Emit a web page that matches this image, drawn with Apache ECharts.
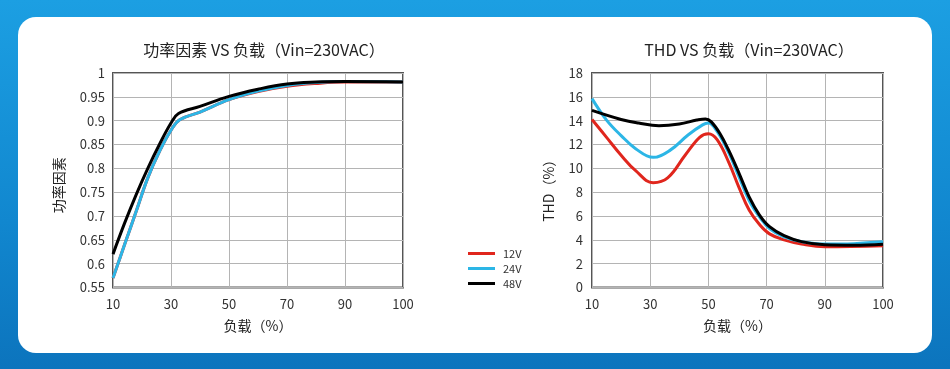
<!DOCTYPE html>
<html>
<head>
<meta charset="utf-8">
<script src="https://cdn.jsdelivr.net/npm/echarts@6/dist/echarts.min.js"></script>
<style>
  html, body { margin: 0; padding: 0; }
  #bg { position: absolute; left: 0; top: 0; width: 950px; height: 369px;
        background: linear-gradient(180deg, #1c9fe2 0%, #1187cf 60%, #0c74bd 100%); }
  #card { position: absolute; left: 18px; top: 17px; width: 914px; height: 336px;
          background: #ffffff; border-radius: 18px; }
  #chart { position: absolute; left: 0; top: 0; width: 950px; height: 369px; }
</style>
</head>
<body>
<div id="bg"></div>
<div id="card"></div>
<div id="chart"></div>
<script>
// ---- Data ----
const xTickLabels = ['10', '30', '50', '70', '90', '100'];
const xTickLoads = [10, 30, 50, 70, 90, 100];
const seriesNames = ['12V', '24V', '48V'];

// Power factor vs load
const pfLoads = [10, 14, 18, 22, 26, 30, 33, 40, 50, 60, 70, 80, 90, 100];
const pf12V = [0.57, 0.64, 0.71, 0.78, 0.835, 0.88, 0.902, 0.918, 0.944, 0.961, 0.972, 0.978, 0.981, 0.981];
const pf24V = [0.57, 0.64, 0.71, 0.78, 0.835, 0.88, 0.902, 0.918, 0.944, 0.962, 0.974, 0.98, 0.982, 0.981];
const pf48VLoads = [10, 14, 18, 22, 26, 30, 32.6, 40, 50, 60, 70, 80, 90, 100];
const pf48V = [0.62, 0.685, 0.745, 0.80, 0.85, 0.895, 0.915, 0.93, 0.951, 0.966, 0.977, 0.981, 0.982, 0.981];

// THD vs load
const thd12VLoads = [10, 15, 20, 25, 31, 36, 42, 47, 50, 53, 57, 60.5, 64, 67.5, 71, 76, 82, 90, 100];
const thd12V = [14.1, 12.6, 11.1, 9.8, 8.8, 9.2, 11.1, 12.6, 12.9, 12.4, 10.5, 8.4, 6.5, 5.3, 4.5, 4.0, 3.65, 3.42, 3.5];
const thd24VLoads = [10, 15, 20, 25, 31, 37, 43, 48, 50, 53, 57, 60.5, 64, 67.5, 71, 76, 82, 90, 95, 100];
const thd24V = [15.85, 14.05, 12.75, 11.65, 10.92, 11.55, 12.8, 13.65, 13.8, 13.1, 11.3, 9.3, 7.3, 5.95, 4.95, 4.25, 3.85, 3.64, 3.68, 3.83];
const thd48VLoads = [10, 20, 26, 33, 40, 46, 49, 51, 54, 57, 60.5, 64, 67.5, 71, 76, 82, 90, 95, 100];
const thd48V = [14.86, 14.1, 13.8, 13.58, 13.72, 14.05, 14.15, 13.9, 12.9, 11.5, 9.6, 7.6, 6.1, 5.1, 4.35, 3.85, 3.58, 3.54, 3.62];

// ---- Helpers ----
// the load axis places its ticks (10,30,50,70,90,100) at equal spacing
function loadToPos(l) {
  for (let i = 0; i < xTickLoads.length - 1; i++) {
    if (l <= xTickLoads[i + 1]) {
      return i + (l - xTickLoads[i]) / (xTickLoads[i + 1] - xTickLoads[i]);
    }
  }
  return xTickLoads.length - 1;
}
function pts(loads, vals) { return loads.map((l, i) => [loadToPos(l), vals[i]]); }

const colors = { '12V': '#e0261d', '24V': '#2cb6e6', '48V': '#000000' };
const FONT = '"Noto Sans CJK SC", "Noto Sans", sans-serif';

function xAxisCfg(gridIndex) {
  return {
    type: 'value', gridIndex, min: 0, max: 5, interval: 1,
    name: '负载（%）', nameLocation: 'middle', nameGap: 31,
    nameTextStyle: { fontSize: 14, color: '#222', fontFamily: FONT },
    axisLine: { show: false }, axisTick: { show: false },
    axisLabel: { formatter: v => xTickLabels[Math.round(v)], fontSize: 13, color: '#333', fontFamily: FONT, margin: 10 },
    splitLine: { show: true, lineStyle: { color: '#b4b4b4', width: 1 } }
  };
}

const chart = echarts.init(document.getElementById('chart'), null, { renderer: 'canvas' });
const option = {
  backgroundColor: 'transparent',
  animation: false,
  title: [
    { text: '功率因素 VS 负载（Vin=230VAC）', left: 259, top: 37, textAlign: 'center',
      textStyle: { fontSize: 16, fontWeight: 'normal', color: '#222', fontFamily: FONT } },
    { text: 'THD VS 负载（Vin=230VAC）', left: 744, top: 37, textAlign: 'center',
      textStyle: { fontSize: 16, fontWeight: 'normal', color: '#222', fontFamily: FONT } }
  ],
  legend: {
    orient: 'vertical', left: 463, top: 243, itemWidth: 27, itemHeight: 3, itemGap: 4,
    icon: 'rect', data: seriesNames,
    textStyle: { fontSize: 11, color: '#333', fontFamily: FONT, padding: [0, 0, 0, 3] }
  },
  grid: [
    { left: 113, right: 547, top: 73, height: 214.5, show: true, borderColor: '#555', borderWidth: 2, backgroundColor: 'transparent' },
    { left: 592, right: 67, top: 73, height: 214.5, show: true, borderColor: '#555', borderWidth: 2, backgroundColor: 'transparent' }
  ],
  xAxis: [xAxisCfg(0), xAxisCfg(1)],
  yAxis: [
    { type: 'value', gridIndex: 0, min: 0.55, max: 1, interval: 0.05,
      name: '功率因素', nameLocation: 'middle', nameGap: 47, nameRotate: 90,
      nameTextStyle: { fontSize: 14, color: '#222', fontFamily: FONT, padding: [0, 10, 0, 0] },
      axisLine: { show: false }, axisTick: { show: false },
      axisLabel: { fontSize: 13, color: '#333', fontFamily: FONT, margin: 8 },
      splitLine: { show: true, lineStyle: { color: '#b4b4b4', width: 1 } } },
    { type: 'value', gridIndex: 1, min: 0, max: 18, interval: 2,
      name: 'THD（%）', nameLocation: 'middle', nameGap: 36, nameRotate: 90,
      nameTextStyle: { fontSize: 14, color: '#222', fontFamily: FONT, padding: [0, 14, 0, 0] },
      axisLine: { show: false }, axisTick: { show: false },
      axisLabel: { fontSize: 13, color: '#333', fontFamily: FONT, margin: 9 },
      splitLine: { show: true, lineStyle: { color: '#b4b4b4', width: 1 } } }
  ],
  series: [
    { name: '12V', type: 'line', xAxisIndex: 0, yAxisIndex: 0, data: pts(pfLoads, pf12V) },
    { name: '24V', type: 'line', xAxisIndex: 0, yAxisIndex: 0, data: pts(pfLoads, pf24V) },
    { name: '48V', type: 'line', xAxisIndex: 0, yAxisIndex: 0, data: pts(pf48VLoads, pf48V) },
    { name: '12V', type: 'line', xAxisIndex: 1, yAxisIndex: 1, data: pts(thd12VLoads, thd12V) },
    { name: '24V', type: 'line', xAxisIndex: 1, yAxisIndex: 1, data: pts(thd24VLoads, thd24V) },
    { name: '48V', type: 'line', xAxisIndex: 1, yAxisIndex: 1, data: pts(thd48VLoads, thd48V) }
  ].map(s => Object.assign(s, {
    smooth: 0.4, showSymbol: false, symbol: 'none',
    color: colors[s.name],
    lineStyle: { color: colors[s.name], width: 3 }
  }))
};
chart.setOption(option);
</script>
</body>
</html>
